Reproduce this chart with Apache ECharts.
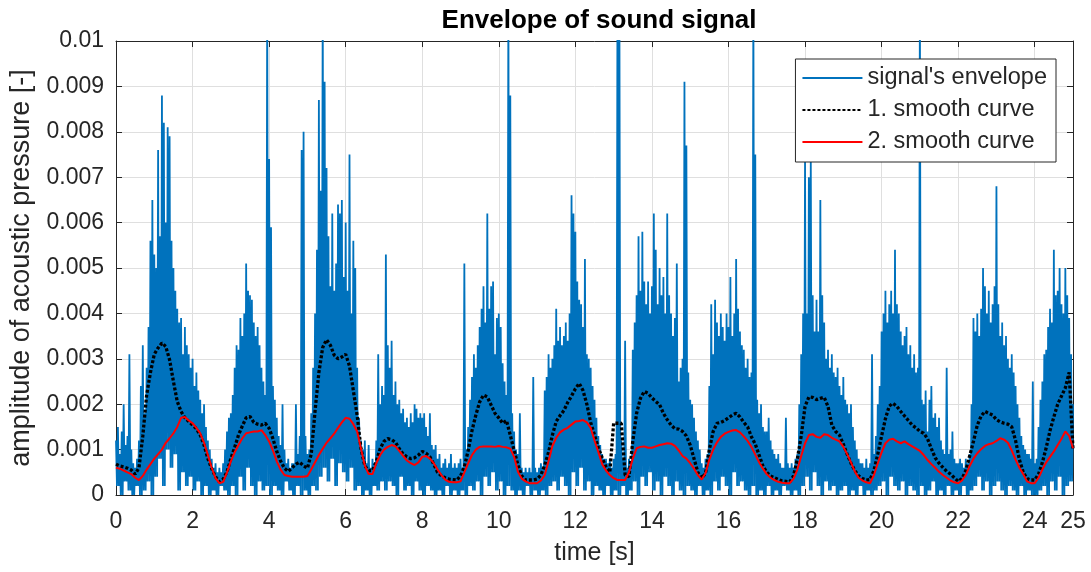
<!DOCTYPE html>
<html><head><meta charset="utf-8">
<script src="https://cdn.jsdelivr.net/npm/echarts@6/dist/echarts.min.js"></script>
<style>html,body{margin:0;padding:0;background:#fff}#c{width:1091px;height:572px}</style>
</head><body><div id="c"></div>
<script>
// values in units of 1e-4 (amplitude of acoustic pressure)
const UNIT = 1e-4;
const STEP_ENV = 0.05;   // s, sampling of envelope peaks
const STEP_LOW = 0.1;    // s, sampling of envelope floor
const STEP_SMOOTH = 0.1; // s, sampling of smooth curves

const xTickLabels = ['0','2','4','6','8','10','12','14','16','18','20','22','24','25'];
const yTickLabels = ['0','0.001','0.002','0.003','0.004','0.005','0.006','0.007','0.008','0.009','0.01'];
const seriesNames = ["signal's envelope", '1. smooth curve', '2. smooth curve'];

// envelope peaks every 0.05 s (one row = 1 s)
const envelopeTop = [
12,15,9,14,20,11,13,31,10,7,6,8,12,24,33,18,28,37,56,65,
53,50,76,57,88,82,60,81,79,56,50,45,41,38,39,31,37,33,31,28,
30,24,27,23,21,18,20,15,12,10,8,6,7,5,6,5,7,10,14,17,
18,22,28,33,32,39,35,40,51,45,44,43,38,35,37,33,28,25,22,110,
74,59,24,21,17,13,11,20,10,7,8,6,7,7,20,9,13,76,80,13,
9,10,18,28,40,54,87,67,110,91,72,57,46,62,45,51,64,62,65,48,
60,45,75,40,56,50,28,17,12,10,12,7,11,6,8,7,12,31,20,24,
22,53,33,28,34,22,25,20,21,18,19,16,17,15,18,16,20,19,17,18,
17,18,15,13,18,11,10,11,8,9,6,7,8,6,7,9,6,7,6,7,
8,6,51,10,15,21,26,31,28,33,37,41,46,38,62,41,46,47,31,39,
40,37,29,25,22,110,88,18,14,10,9,18,6,5,6,5,6,5,26,6,
5,6,7,6,23,26,31,28,30,33,41,34,37,33,35,38,34,40,66,62,
58,47,43,42,37,52,31,30,28,24,21,17,13,11,9,8,8,7,8,6,
8,9,110,110,12,8,34,6,8,7,32,38,44,57,45,58,47,42,47,40,
46,62,54,42,50,44,48,40,62,44,40,35,39,51,25,28,30,91,77,27,
21,20,17,14,12,10,7,6,8,9,24,42,31,43,38,35,40,37,34,40,
37,48,35,40,52,41,36,33,32,28,30,26,27,110,75,21,18,20,15,14,
14,17,12,10,9,8,9,7,6,6,17,7,6,7,6,8,9,20,31,40,
74,40,70,74,44,36,43,36,65,44,38,30,32,28,31,27,26,28,24,22,
26,21,20,18,20,15,12,10,8,7,7,6,8,6,7,31,9,13,20,24,
36,40,45,38,42,45,40,54,42,40,36,33,35,37,31,33,28,31,27,28,
110,21,20,23,14,21,24,17,18,15,17,12,10,9,28,9,10,14,8,7,
7,8,7,6,8,7,9,20,39,36,40,35,41,50,46,40,45,38,42,46,
68,42,35,38,33,35,30,28,31,27,24,20,17,13,11,10,9,9,8,25,
7,8,15,21,25,31,32,37,41,38,54,44,45,50,42,40,50,44,39,31,
20
];

// envelope floor every 0.1 s
const envelopeLow = [
2,0,3,1,0,2,0,1,3,0,
4,8,2,10,6,9,1,5,2,4,
1,3,0,2,0,1,0,2,1,0,
2,0,4,1,6,2,0,3,1,2,
0,2,1,0,3,1,0,2,0,1,
0,2,1,4,6,3,8,2,7,5,
3,6,1,2,0,1,0,2,1,3,
1,3,2,0,4,1,2,0,3,1,
0,2,1,0,1,0,2,0,1,0,
1,0,2,1,3,0,4,2,5,1,
3,0,2,1,0,1,0,2,0,1,
0,1,0,2,3,1,4,2,0,5,
2,6,1,3,0,2,1,0,2,0,
1,0,2,0,1,3,0,4,2,5,
1,3,0,4,2,0,3,1,0,2,
1,0,2,0,1,0,3,1,4,2,
0,5,2,3,1,0,2,0,1,0,
2,0,1,0,2,1,0,1,0,2,
4,1,5,2,0,3,1,2,0,1,
2,0,1,0,2,0,1,0,1,2,
3,0,4,2,1,3,0,2,1,0,
2,0,1,3,0,1,0,2,0,1,
0,2,0,1,2,4,1,3,0,2,
3,1,0,2,1,0,2,0,1,0,
0,1,2,0,3,1,4,0,2,3
];

// 1. smooth curve every 0.1 s
const smoothCurve1 = [
6.8,6.4,6.2,5.9,5.5,4.6,6.0,13.0,22.0,27.0,
31.0,32.4,33.5,32.7,29.8,25.0,20.6,18.4,17.0,16.2,
15.4,14.6,13.2,11.0,8.0,5.8,4.0,2.9,3.5,5.1,
8.0,10.5,13.2,15.2,17.0,17.3,16.0,15.6,15.4,15.8,
14.7,12.4,9.6,7.5,5.9,5.2,6.0,6.8,7.2,6.4,
5.9,9.0,18.5,27.0,32.5,34.2,33.0,30.8,30.0,30.4,
31.0,28.4,23.0,17.5,10.2,6.4,5.4,5.4,7.4,10.2,
11.8,12.4,12.2,11.6,10.2,9.0,8.4,8.0,8.2,8.8,
9.6,9.2,8.4,6.8,5.0,4.2,3.8,3.5,3.4,3.3,
4.2,6.2,9.8,14.2,17.6,20.5,22.0,21.6,19.8,18.0,
17.0,15.8,16.4,13.2,9.8,6.6,4.2,3.3,3.3,3.3,
3.5,4.4,6.6,9.4,13.2,16.2,17.5,18.6,20.4,21.8,
23.4,24.6,23.0,20.0,16.0,13.2,10.4,8.2,6.2,5.0,
15.8,15.8,15.8,4.4,4.0,11.8,18.0,21.3,22.8,22.4,
21.4,20.6,19.9,18.0,16.6,15.4,14.6,14.5,14.0,13.0,
11.0,8.0,5.0,3.7,4.8,10.0,14.0,15.8,16.0,16.4,
17.0,17.6,18.0,17.2,16.0,15.0,12.8,11.2,8.8,6.4,
5.0,4.2,3.8,3.4,3.1,3.0,2.9,4.2,8.0,13.0,
19.5,21.6,21.5,21.0,21.3,21.5,19.5,15.4,14.0,13.2,
11.2,9.0,7.0,5.4,4.2,3.6,3.3,3.4,5.4,9.0,
13.0,16.8,19.6,20.2,19.5,18.4,17.4,16.4,15.4,14.8,
14.0,13.6,12.4,10.2,8.2,7.0,6.1,5.2,4.6,3.8,
3.0,3.6,5.4,8.6,11.8,15.4,17.4,18.4,18.0,17.6,
16.6,16.1,15.8,15.6,15.0,12.0,7.8,5.0,3.6,3.3,
3.3,4.6,7.2,10.4,14.2,17.2,20.0,21.8,23.6,27.0,
10.0
];

// 2. smooth curve every 0.1 s
const smoothCurve2 = [
6.0,5.8,5.4,5.0,4.6,3.8,3.3,4.2,5.6,6.8,
8.0,9.0,10.0,11.5,12.5,13.6,15.0,17.0,17.2,16.4,
15.8,14.8,13.6,11.5,8.8,6.0,3.7,2.6,2.9,5.0,
7.4,9.4,11.0,12.5,13.6,13.8,14.0,14.0,14.3,13.2,
11.8,9.8,7.4,5.6,4.4,4.2,4.0,4.0,4.0,4.0,
4.2,5.6,7.2,8.8,10.2,11.5,12.5,13.5,14.8,16.0,
17.0,16.8,15.6,14.0,10.2,6.5,4.6,4.6,7.0,8.8,
10.0,10.6,11.0,10.7,9.7,8.6,7.6,7.0,6.6,7.2,
8.4,8.6,8.0,7.0,5.6,4.4,3.4,2.9,2.8,2.8,
3.0,5.0,7.0,8.8,10.0,10.6,10.7,10.7,10.7,10.6,
10.8,10.6,10.5,10.2,8.4,5.1,3.6,3.0,2.6,2.6,
2.6,3.2,4.4,7.5,10.8,12.6,13.8,14.4,14.8,15.5,
16.2,16.3,16.5,16.0,14.8,12.0,9.5,6.8,5.4,4.4,
3.7,3.3,3.3,3.3,5.0,8.0,10.3,10.6,10.7,10.4,
10.4,10.7,11.0,11.2,11.4,11.3,10.8,9.8,8.6,8.0,
7.0,5.8,4.4,3.4,4.8,7.8,10.0,11.6,12.8,13.5,
13.9,14.2,14.3,13.8,12.9,11.9,10.6,8.9,7.2,5.8,
4.6,3.8,3.3,2.9,2.7,2.6,2.6,3.6,5.6,8.6,
11.4,13.2,13.4,12.8,12.6,13.4,13.2,12.6,12.2,11.8,
10.6,9.0,7.2,5.2,3.8,3.2,2.8,2.6,4.4,7.0,
9.4,11.4,12.2,12.4,11.8,11.4,11.8,11.2,10.7,10.2,
9.7,8.8,7.7,6.8,6.0,5.1,4.4,3.8,3.2,2.8,
2.6,3.2,4.4,6.4,8.0,9.2,10.1,10.8,11.2,11.4,
11.9,12.5,12.2,11.5,9.8,7.8,6.0,4.6,3.0,2.6,
2.6,3.8,5.6,7.2,8.4,9.6,11.0,12.4,14.0,13.0,
10.3
];

// ---- build series data (peak / floor alternate) ----
const envData = [];
for (let i = 0; i < envelopeTop.length; i++) {
  const t = +(i * STEP_ENV).toFixed(3);
  envData.push([t, envelopeTop[i] * UNIT]);
  if (i < envelopeTop.length - 1) {
    const lowIdx = Math.floor(t / STEP_LOW + 1e-6);
    envData.push([+(t + STEP_ENV / 2).toFixed(4), envelopeLow[lowIdx] * UNIT]);
  }
}
const s1Data = smoothCurve1.map((v, i) => [+(i * STEP_SMOOTH).toFixed(2), v * UNIT]);
const s2Data = smoothCurve2.map((v, i) => [+(i * STEP_SMOOTH).toFixed(2), v * UNIT]);

const FONT = "'Liberation Sans', Arial, Helvetica, sans-serif";
const AX = '#262626';
const GRID = '#dfdfdf';

const chart = echarts.init(document.getElementById('c'));
chart.setOption({
  animation: false,
  backgroundColor: '#ffffff',
  title: {
    text: 'Envelope of sound signal',
    left: 594, top: 3, textAlign: 'center',
    textStyle: { fontFamily: FONT, fontSize: 26, fontWeight: 'bold', color: '#000' }
  },
  grid: { left: 116, right: 18, top: 41, bottom: 77 },
  legend: {
    orient: 'vertical', right: 35, top: 59,
    backgroundColor: '#ffffff', borderColor: AX, borderWidth: 1, borderRadius: 0,
    padding: [7, 9, 8, 6], itemWidth: 60, itemHeight: 2, itemGap: 8,
    selectedMode: false,
    itemStyle: { opacity: 0 },
    textStyle: { fontFamily: FONT, fontSize: 23.5, color: AX, lineHeight: 24 },
    data: seriesNames
  },
  xAxis: [{
    type: 'value', min: 0, max: 25, interval: 2, position: 'bottom',
    name: 'time [s]', nameLocation: 'middle', nameGap: 46,
    nameTextStyle: { fontFamily: FONT, fontSize: 25, color: AX },
    axisLine: { onZero: false, lineStyle: { color: AX, width: 1 } },
    axisTick: { inside: true, length: 6, lineStyle: { color: AX } },
    axisLabel: { fontFamily: FONT, fontSize: 23, color: AX, margin: 15,
      formatter: (v, i) => xTickLabels[i] },
    splitLine: { show: true, lineStyle: { color: GRID, width: 1 } }
  }, {
    type: 'value', min: 0, max: 25, interval: 2, position: 'top',
    axisLine: { onZero: false, lineStyle: { color: AX, width: 1 } },
    axisTick: { inside: true, length: 6, lineStyle: { color: AX } },
    axisLabel: { show: false }, splitLine: { show: false }
  }],
  yAxis: [{
    type: 'value', min: 0, max: 0.01, interval: 0.001, position: 'left',
    name: 'amplitude of acoustic pressure [-]', nameLocation: 'middle', nameGap: 76,
    nameTextStyle: { fontFamily: FONT, fontSize: 27, color: AX },
    axisLine: { show: true, onZero: false, lineStyle: { color: AX, width: 1 } },
    axisTick: { show: true, inside: true, length: 6, lineStyle: { color: AX } },
    axisLabel: { fontFamily: FONT, fontSize: 23, color: AX, margin: 12,
      formatter: (v, i) => yTickLabels[i] },
    splitLine: { show: true, lineStyle: { color: GRID, width: 1 } }
  }, {
    type: 'value', min: 0, max: 0.01, interval: 0.001, position: 'right',
    axisLine: { show: true, onZero: false, lineStyle: { color: AX, width: 1 } },
    axisTick: { show: true, inside: true, length: 6, lineStyle: { color: AX } },
    axisLabel: { show: false }, splitLine: { show: false }
  }],
  series: [{
    name: seriesNames[0], type: 'line', data: envData, symbol: 'none', clip: true,
    lineStyle: { color: '#0072BD', width: 1.8 }, itemStyle: { color: '#0072BD' }
  }, {
    name: seriesNames[1], type: 'line', data: s1Data, symbol: 'none', clip: true,
    lineStyle: { color: '#000000', width: 3.3, type: [3, 2] }, itemStyle: { color: '#000000' }
  }, {
    name: seriesNames[2], type: 'line', data: s2Data, symbol: 'none', clip: true,
    lineStyle: { color: '#ff0000', width: 2 }, itemStyle: { color: '#ff0000' }
  }]
});
</script>
</body></html>
